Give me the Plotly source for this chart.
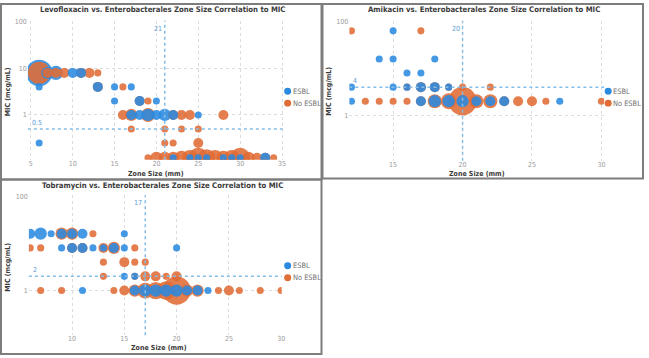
import numpy as np
import plotly.graph_objects as go

# ---------------- data ----------------
# Levofloxacin
levo_esbl_zone = [6, 7, 8, 10, 11, 6, 13, 15, 17, 15, 18, 20, 17, 18, 19, 20, 21, 22, 25, 6,
                  22, 24, 25, 26, 28, 29, 30, 33]
levo_esbl_mic = [8, 8, 8, 8, 8, 4, 4, 4, 4, 2, 2, 2, 1, 1, 1, 1, 1, 1, 1, 0.25,
                 0.12, 0.12, 0.12, 0.12, 0.12, 0.12, 0.12, 0.12]
levo_esbl_n = [14, 3, 4, 2, 2, 1, 2, 1, 1, 1, 2, 1, 2, 2, 3, 2, 3, 2, 1, 1,
               1, 1, 1, 1, 1, 1, 1, 2]
levo_no_zone = [6, 7, 8, 9, 11, 12, 13, 13, 16, 18, 19, 16, 17, 19, 22, 23, 24, 28,
                17, 21, 23, 25, 21, 22, 25,
                19, 20, 21, 22, 23, 24, 25, 26, 27, 28, 29, 30, 31, 32, 33, 34]
levo_no_mic = [8, 8, 8, 8, 8, 8, 8, 4, 4, 2, 2, 1, 1, 1, 1, 1, 1, 1,
               0.5, 0.5, 0.5, 0.5, 0.25, 0.25, 0.25,
               0.12, 0.12, 0.12, 0.12, 0.12, 0.12, 0.12, 0.12, 0.12, 0.12, 0.12, 0.12, 0.12, 0.12, 0.12, 0.12]
levo_no_n = [10, 2, 2, 2, 2, 2, 1, 2, 1, 2, 1, 2, 3, 4, 2, 2, 2, 2,
             1, 1, 1, 1, 1, 1, 2,
             1, 3, 3, 3, 4, 5, 8, 6, 5, 4, 5, 8, 3, 2, 2, 1]

# Amikacin
amik_esbl_zone = [15, 14, 15, 18, 16, 17, 12, 15, 16, 17, 18, 19,
                  12, 17, 18, 19, 20, 21, 22, 23, 27]
amik_esbl_mic = [64, 16, 16, 16, 8, 8, 4, 4, 4, 4, 4, 4,
                 2, 2, 2, 2, 2, 2, 2, 2, 2]
amik_esbl_n = [1, 1, 1, 1, 1, 1, 1, 1, 1, 2, 2, 1,
               1, 2, 3, 3, 3, 2, 2, 2, 1]
amik_no_zone = [12, 17, 16, 17, 18, 19, 20, 22,
                13, 14, 15, 16, 17, 18, 19, 20, 21, 22, 23, 24, 25, 26, 30]
amik_no_mic = [64, 64, 4, 4, 4, 4, 4, 4,
               2, 2, 2, 2, 2, 2, 2, 2, 2, 2, 2, 2, 2, 2, 2]
amik_no_n = [1, 1, 1, 2, 2, 1, 1, 1,
             1, 1, 1, 1, 2, 4, 5, 16, 4, 4, 2, 2, 2, 1, 1]

# Tobramycin
tobr_esbl_zone = [6, 7, 8, 9, 10, 11, 15, 9, 10, 11, 12, 13, 14, 15, 20, 15, 16,
                  11, 16, 17, 18, 19, 20, 21, 22, 23]
tobr_esbl_mic = [16, 16, 16, 16, 16, 16, 16, 8, 8, 8, 8, 8, 8, 8, 8, 2, 2,
                 1, 1, 1, 1, 1, 1, 1, 1, 1]
tobr_esbl_n = [2, 3, 1, 2, 2, 2, 1, 1, 2, 2, 1, 1, 2, 1, 1, 1, 1,
               1, 2, 3, 3, 3, 3, 2, 2, 1]
tobr_no_zone = [9, 10, 12, 6, 7, 10, 11, 13, 14, 16, 13, 15, 16, 17,
                13, 16, 17, 18, 19, 20,
                7, 9, 14, 15, 16, 17, 18, 19, 20, 21, 22, 24, 25, 26, 28, 30]
tobr_no_mic = [16, 16, 16, 8, 8, 8, 8, 8, 8, 8, 4, 4, 4, 4,
               2, 2, 2, 2, 2, 2,
               1, 1, 1, 1, 1, 1, 1, 1, 1, 1, 1, 1, 1, 1, 1, 1]
tobr_no_n = [3, 3, 1, 1, 1, 2, 2, 2, 3, 1, 1, 2, 1, 1,
             1, 1, 2, 2, 1, 2,
             1, 1, 1, 2, 3, 5, 6, 7, 16, 3, 3, 1, 2, 1, 1, 1]

titles = ["Levofloxacin vs. Enterobacterales Zone Size Correlation to MIC",
          "Amikacin vs. Enterobacterales Zone Size Correlation to MIC",
          "Tobramycin vs. Enterobacterales Zone Size Correlation to MIC"]
breakpoints_zone = [21, 20, 17]
breakpoints_mic = [0.5, 4, 2]
series_names = ["ESBL", "No ESBL"]

# ---------------- style ----------------
W, H = 649, 358
BLUE = "#2a8ae0"
ORANGE = "#e06c36"
REF = "#86bde6"
FONT = "Liberation Sans Narrow, DejaVu Sans Condensed, Roboto, sans-serif"


def fx(p):
    return p / W


def fy(p):
    return 1 - p / H


panels = [
    dict(data=(levo_esbl_zone, levo_esbl_mic, levo_esbl_n, levo_no_zone, levo_no_mic, levo_no_n),
         xd=(28, 285), yd=(18, 158), xr=[4.65, 35.2], yr=[-0.96, 2.02],
         xt=[5, 10, 15, 20, 25, 30, 35], yt=[1, 10, 100], box=(1, 1, 323, 178),
         tpos=(163, 7), xtitle=(157, 172), ytitle=(8, 89), leg=(289, 89)),
    dict(data=(amik_esbl_zone, amik_esbl_mic, amik_esbl_n, amik_no_zone, amik_no_mic, amik_no_n),
         xd=(351, 607), yd=(18, 159), xr=[11.85, 30.2], yr=[-0.97, 2.02],
         xt=[15, 20, 25, 30], yt=[1, 100], box=(324, 1, 646, 177),
         tpos=(486, 7), xtitle=(479, 172), ytitle=(331, 89), leg=(611, 89)),
    dict(data=(tobr_esbl_zone, tobr_esbl_mic, tobr_esbl_n, tobr_no_zone, tobr_no_mic, tobr_no_n),
         xd=(29, 283), yd=(194, 335), xr=[5.87, 30.05], yr=[-0.944, 2.015],
         xt=[10, 15, 20, 25, 30], yt=[1, 100], box=(1, 178, 323, 354),
         tpos=(163, 184), xtitle=(160, 348), ytitle=(8, 266), leg=(289, 265)),
]

fig = go.Figure()
shapes = []
annotations = []
layout_axes = {}
LEG_GAP = 12

for i, p in enumerate(panels):
    k = "" if i == 0 else str(i + 1)
    xa, ya = "x" + k, "y" + k
    ez, em, en, nz, nm, nn = p["data"]
    # combined, bigger bubbles drawn first so smaller ones sit on top
    pts = [(z, m, n, ORANGE) for z, m, n in zip(nz, nm, nn)] + \
          [(z, m, n, BLUE) for z, m, n in zip(ez, em, en)]
    pts.sort(key=lambda t: -t[2])
    fig.add_trace(go.Scatter(
        x=[t[0] for t in pts], y=[t[1] for t in pts], mode="markers",
        marker=dict(size=[t[2] for t in pts], sizemode="area", sizeref=0.04,
                    color=[t[3] for t in pts], opacity=0.88, line=dict(width=0)),
        xaxis=xa, yaxis=ya, showlegend=False, hoverinfo="x+y"))
    layout_axes["xaxis" + k] = dict(
        domain=[fx(p["xd"][0]), fx(p["xd"][1])], range=p["xr"], anchor=ya,
        tickvals=p["xt"], showgrid=True, gridcolor="#dcdcdc", griddash="dot",
        gridwidth=1, zeroline=False, showline=False, ticks="", ticklabelstandoff=-2,
        tickfont=dict(size=7, color="#9a9a9a", family=FONT), fixedrange=True)
    layout_axes["yaxis" + k] = dict(
        domain=[fy(p["yd"][1]), fy(p["yd"][0])], type="log", range=p["yr"], anchor=xa,
        tickvals=p["yt"], ticktext=[str(v) for v in p["yt"]],
        showgrid=True, gridcolor="#dcdcdc", griddash="dot", gridwidth=1,
        zeroline=False, showline=False, ticks="",
        tickfont=dict(size=7, color="#9a9a9a", family=FONT), fixedrange=True)
    # reference lines
    vz = breakpoints_zone[i]
    hm = breakpoints_mic[i]
    shapes.append(dict(type="line", xref=xa, yref=ya + " domain", x0=vz, x1=vz, y0=0, y1=1,
                       line=dict(color=REF, width=1.5, dash="dot")))
    shapes.append(dict(type="line", xref=xa + " domain", yref=ya, x0=0, x1=1,
                       y0=hm, y1=hm, line=dict(color=REF, width=1.5, dash="dot")))
    annotations.append(dict(text=str(vz), xref=xa, yref=ya + " domain", x=vz, y=1,
                            xanchor="right", yanchor="top", yshift=-2, xshift=-1, showarrow=False,
                            font=dict(size=7, color="#5b9bd5", family=FONT)))
    annotations.append(dict(text=str(hm), xref=xa + " domain", yref=ya, x=0, y=np.log10(hm),
                            xanchor="left", yanchor="bottom", xshift=2, showarrow=False,
                            font=dict(size=7, color="#5b9bd5", family=FONT)))
    # titles
    annotations.append(dict(text="<b>" + titles[i] + "</b>", xref="paper", yref="paper",
                            x=fx(p["tpos"][0]), y=fy(p["tpos"][1]), xanchor="center",
                            yanchor="middle", showarrow=False,
                            font=dict(size=7.7, color="#3a3a3a", family=FONT)))
    annotations.append(dict(text="<b>Zone Size (mm)</b>", xref="paper", yref="paper",
                            x=fx(p["xtitle"][0]), y=fy(p["xtitle"][1]), xanchor="center",
                            yanchor="middle", showarrow=False,
                            font=dict(size=7, color="#3a3a3a", family=FONT)))
    annotations.append(dict(text="<b>MIC (mcg/mL)</b>", xref="paper", yref="paper",
                            x=fx(p["ytitle"][0]), y=fy(p["ytitle"][1]), xanchor="center",
                            yanchor="middle", textangle=-90, showarrow=False,
                            font=dict(size=7, color="#3a3a3a", family=FONT)))
    # legend (drawn as marker dots + labels)
    lx, ly = p["leg"]
    for j, (nme, col) in enumerate(zip(series_names, [BLUE, ORANGE])):
        cy = ly + j * LEG_GAP
        shapes.append(dict(type="circle", xref="paper", yref="paper",
                           x0=fx(lx - 3.5), x1=fx(lx + 3.5), y0=fy(cy + 3.5), y1=fy(cy - 3.5),
                           fillcolor=col, line=dict(width=0)))
        annotations.append(dict(text=nme, xref="paper", yref="paper", x=fx(lx + 3), y=fy(cy),
                                xanchor="left", yanchor="middle", showarrow=False,
                                font=dict(size=7.4, color="#707070", family=FONT)))
    b = p["box"]
    shapes.append(dict(type="rect", xref="paper", yref="paper",
                       x0=fx(b[0]), x1=fx(b[2]), y0=fy(b[3]), y1=fy(b[1]),
                       line=dict(color="#7d7d7d", width=2), fillcolor="rgba(0,0,0,0)"))

fig.update_layout(
    width=W, height=H, margin=dict(l=0, r=0, t=0, b=0),
    paper_bgcolor="white", plot_bgcolor="white", showlegend=False,
    font=dict(family=FONT), shapes=shapes, annotations=annotations,
    **layout_axes)

fig.write_html("out.html")
